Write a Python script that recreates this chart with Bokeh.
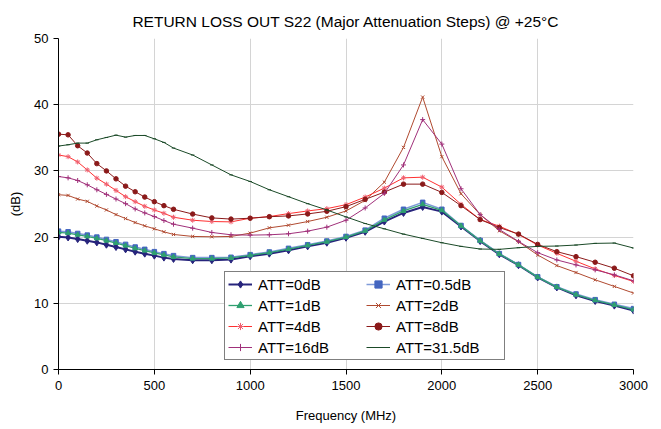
from bokeh.plotting import figure
from bokeh.models import Legend, LegendItem, Range1d, FixedTicker
from bokeh.embed import file_html
from bokeh.resources import INLINE

freq = [0, 50, 100, 150, 200, 250, 300, 350, 400, 450, 500, 550, 600,
        700, 800, 900, 1000, 1100, 1200, 1300, 1400, 1500, 1600, 1700, 1800,
        1900, 2000, 2100, 2200, 2300, 2400, 2500, 2600, 2700, 2800, 2900, 3000]

att_0 = [20.05, 19.95, 19.7, 19.45, 19.2, 18.85, 18.5, 18.15, 17.8, 17.5, 17.2, 16.9, 16.7,
         16.5, 16.5, 16.6, 17.1, 17.5, 18.0, 18.6, 19.15, 19.9, 20.8, 22.35, 23.65,
         24.55, 23.85, 21.6, 19.4, 17.4, 15.75, 13.9, 12.4, 11.2, 10.35, 9.65, 8.9]
att_05 = [20.9, 20.8, 20.55, 20.3, 20.0, 19.65, 19.3, 18.9, 18.5, 18.15, 17.8, 17.5, 17.2,
          16.9, 16.9, 16.95, 17.35, 17.75, 18.3, 18.85, 19.4, 20.1, 21.05, 22.85, 24.2,
          25.25, 24.2, 21.75, 19.5, 17.5, 15.85, 14.0, 12.5, 11.4, 10.55, 9.85, 9.2]
att_1 = [20.7, 20.6, 20.35, 20.1, 19.8, 19.45, 19.1, 18.7, 18.3, 17.95, 17.6, 17.3, 17.0,
         16.75, 16.75, 16.85, 17.25, 17.65, 18.2, 18.75, 19.3, 20.0, 20.95, 22.6, 23.95,
         24.95, 24.05, 21.7, 19.45, 17.45, 15.8, 13.95, 12.45, 11.3, 10.45, 9.75, 9.05]
att_2 = [26.4, 26.3, 25.75, 25.4, 24.7, 24.1, 23.4, 22.8, 22.2, 21.7, 21.25, 20.8, 20.4,
         20.1, 20.05, 20.1, 20.6, 21.4, 21.8, 22.35, 23.0, 23.95, 25.55, 28.3, 33.55,
         41.15, 32.15, 26.55, 23.4, 20.95, 19.3, 17.3, 15.7, 14.65, 13.55, 12.55, 11.55]
att_4 = [32.4, 32.15, 31.35, 30.15, 28.9, 28.0, 27.05, 26.1, 25.35, 24.65, 24.1, 23.6, 23.0,
         22.55, 22.35, 22.3, 22.85, 23.1, 23.55, 23.95, 24.3, 24.9, 26.05, 27.4, 28.95,
         29.05, 27.55, 24.95, 22.65, 21.65, 20.4, 18.8, 17.55, 16.35, 15.2, 14.2, 13.3]
att_8 = [35.55, 35.45, 33.8, 32.7, 31.1, 30.0, 28.8, 27.7, 26.85, 26.05, 25.35, 24.75, 24.2,
         23.48, 22.9, 22.72, 22.85, 23.08, 23.2, 23.5, 23.9, 24.6, 25.7, 26.8, 28.0,
         28.0, 26.75, 24.75, 22.65, 21.45, 20.45, 18.9, 17.8, 17.05, 16.2, 15.3, 14.15]
att_16 = [29.15, 28.95, 28.55, 27.9, 27.15, 26.45, 25.75, 25.05, 24.25, 23.65, 23.1, 22.5, 21.95,
          21.35, 20.7, 20.35, 20.3, 20.35, 20.5, 20.9, 21.5, 22.55, 24.4, 26.6, 30.9,
          37.75, 34.05, 27.3, 23.4, 21.15, 19.35, 17.65, 16.55, 15.8, 15.05, 14.3, 13.4]
att_315 = [33.75, 33.95, 34.2, 34.2, 34.7, 35.05, 35.4, 35.1, 35.35, 35.35, 34.85, 34.3, 33.45,
           32.4, 30.9, 29.4, 28.4, 27.15, 26.1, 25.05, 24.1, 23.05, 22.05, 21.25, 20.45,
           19.8, 19.15, 18.6, 18.2, 18.15, 18.4, 18.6, 18.65, 18.8, 19.05, 19.1, 18.35]

labels = ["ATT=0dB", "ATT=0.5dB", "ATT=1dB", "ATT=2dB",
          "ATT=4dB", "ATT=8dB", "ATT=16dB", "ATT=31.5dB"]
x_ticks = [0, 500, 1000, 1500, 2000, 2500, 3000]
y_ticks = [0, 10, 20, 30, 40, 50]

FONT = "Liberation Sans"

p = figure(width=655, height=425, output_backend="svg", toolbar_location=None,
           x_range=Range1d(0, 3000), y_range=Range1d(0, 50),
           min_border_left=58, min_border_right=22, min_border_top=38, min_border_bottom=54)
p.outline_line_color = None
p.background_fill_color = "white"
p.border_fill_color = "white"

p.title.text = "RETURN LOSS OUT S22 (Major Attenuation Steps) @ +25\u00b0C"
p.title.align = "center"
p.title.text_font = FONT
p.title.text_font_size = "15.5px"
p.title.text_font_style = "normal"
p.title.text_color = "#000000"
p.title.standoff = 18

p.xaxis.ticker = FixedTicker(ticks=x_ticks)
p.yaxis.ticker = FixedTicker(ticks=y_ticks)
p.xaxis.axis_label = "Frequency (MHz)"
p.yaxis.axis_label = "(dB)"
for ax in (p.xaxis, p.yaxis):
    ax.axis_label_text_font = FONT
    ax.axis_label_text_font_size = "13px"
    ax.axis_label_text_font_style = "normal"
    ax.major_label_text_font = FONT
    ax.major_label_text_font_size = "13px"
    ax.major_tick_in = 0
    ax.major_tick_out = 5
    ax.minor_tick_line_color = None
    ax.axis_line_color = "black"
    ax.major_tick_line_color = "black"
    ax.major_label_text_color = "black"
    ax.axis_label_text_color = "black"
p.xaxis.major_label_standoff = 6
p.yaxis.major_label_standoff = 5
p.xaxis.axis_label_standoff = 15
p.yaxis.axis_label_standoff = 8

p.xgrid.ticker = FixedTicker(ticks=x_ticks)
p.ygrid.ticker = FixedTicker(ticks=y_ticks)
p.grid.grid_line_color = "#D4D4D4"
p.grid.grid_line_width = 1

series = [
    (att_0, "#27247C", "#27247C", "diamond", 7, 2.0),
    (att_05, "#7F9BD8", "#4466C0", "square", 4.5, 1.5),
    (att_1, "#2FA070", "#2FA070", "triangle", 5, 1.3),
    (att_2, "#B04A30", "#B04A30", "x", 4.5, 1.0),
    (att_4, "#FF3030", "#F06070", "asterisk", 5, 1.0),
    (att_8, "#8B1A1A", "#8B1A1A", "circle", 4.5, 1.0),
    (att_16, "#A0307A", "#A0307A", "cross", 5, 1.0),
    (att_315, "#1B4A28", "#1B4A28", "dash", 3.5, 1.0),
]

items = []
for (vals, lc, mc, marker, size, lw), lab in zip(series, labels):
    r1 = p.line(freq, vals, line_color=lc, line_width=lw)
    r2 = p.scatter(freq, vals, marker=marker, size=size, line_color=mc,
                   fill_color=mc, line_width=1.0)
    items.append(LegendItem(label=lab, renderers=[r1, r2]))

# legend fills column by column: reorder so rows read 0/0.5, 1/2, 4/8, 16/31.5
order = [0, 2, 4, 6, 1, 3, 5, 7]
legend = Legend(items=[items[i] for i in order], location=(166, 9), ncols=2)
legend.label_text_font = FONT
legend.label_text_font_size = "15px"
legend.label_text_color = "black"
legend.glyph_width = 24
legend.glyph_height = 18
legend.label_height = 18
legend.label_standoff = 6
legend.label_width = 105
legend.spacing = 3
legend.padding = 3
legend.margin = 0
legend.border_line_color = "black"
legend.border_line_width = 1
legend.background_fill_color = "white"
legend.background_fill_alpha = 1.0
p.add_layout(legend, "center")

open("out.html", "w").write(file_html(p, INLINE))
